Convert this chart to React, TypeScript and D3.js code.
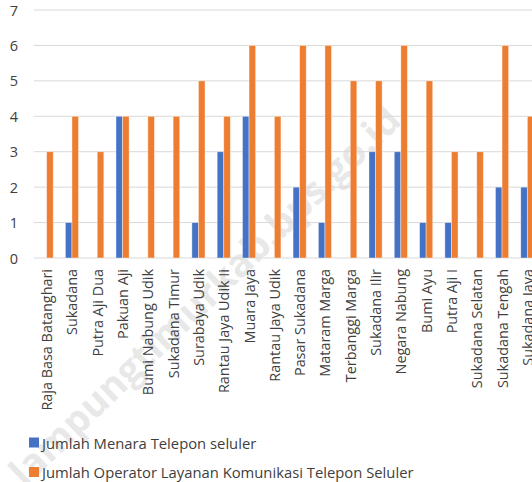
import * as d3 from "d3";

const categories = [
  "Raja Basa Batanghari",
  "Sukadana",
  "Putra Aji Dua",
  "Pakuan Aji",
  "Bumi Nabung Udik",
  "Sukadana Timur",
  "Surabaya Udik",
  "Rantau Jaya Udik Ii",
  "Muara Jaya",
  "Rantau Jaya Udik",
  "Pasar Sukadana",
  "Mataram Marga",
  "Terbanggi Marga",
  "Sukadana Ilir",
  "Negara Nabung",
  "Bumi Ayu",
  "Putra Aji I",
  "Sukadana Selatan",
  "Sukadana Tengah",
  "Sukadana Jaya",
];
const menara = [0, 1, 0, 4, 0, 0, 1, 3, 4, 0, 2, 1, 0, 3, 3, 1, 1, 0, 2, 2];
const operator = [3, 4, 3, 4, 4, 4, 5, 4, 6, 4, 6, 6, 5, 5, 6, 5, 3, 3, 6, 4];
const seriesNames = [
  "Jumlah Menara Telepon seluler",
  "Jumlah Operator Layanan Komunikasi Telepon Seluler",
];
const colors = ["#4472C4", "#ED7D31"];
const yTicks = [0, 1, 2, 3, 4, 5, 6, 7];

const W = 532;
const H = 482;
const left = 34;
const step = 25.3;
const font = "'Open Sans', sans-serif";

export default function App() {
  const x = d3
    .scaleBand<string>()
    .domain(categories)
    .range([left, left + step * categories.length])
    .paddingInner(0.48)
    .paddingOuter(0.24);
  const x1 = d3
    .scaleBand<number>()
    .domain([0, 1])
    .range([0, x.bandwidth()]);
  const y = d3.scaleLinear().domain([0, 7]).range([258, 10]);
  const series = [menara, operator];

  return (
    <div style={{ position: "fixed", left: 0, top: 0 }}>
      <svg width={W} height={H} style={{ display: "block", background: "#fff" }}>
        {/* watermark */}
        <text
          transform="translate(207,298) rotate(-44)"
          textAnchor="middle"
          dominantBaseline="middle"
          fontFamily={font}
          fontWeight="bold"
          fontSize={38}
          fill="#d9d9d9"
          opacity={0.6}
        >
          lampungtimurkab.bps.go.id
        </text>
        {yTicks.map((t) => (
          <g key={t}>
            <line x1={left} x2={W} y1={y(t)} y2={y(t)} stroke="#d9d9d9" strokeWidth={1} />
            <text
              x={18}
              y={y(t)}
              textAnchor="end"
              dominantBaseline="central"
              fontFamily={font}
              fontSize={14.5}
              fill="#404040"
            >
              {t}
            </text>
          </g>
        ))}
        {series.map((vals, s) => (
          <g key={s}>
            {vals.map((v, i) =>
              v > 0 ? (
                <rect
                  key={i}
                  x={(x(categories[i]) ?? 0) + (x1(s) ?? 0)}
                  y={y(v)}
                  width={x1.bandwidth()}
                  height={y(0) - y(v)}
                  fill={colors[s]}
                  stroke="#fff"
                  strokeOpacity={0.5}
                  strokeWidth={0.8}
                />
              ) : null
            )}
          </g>
        ))}
        {categories.map((c) => {
          const cx = (x(c) ?? 0) + x.bandwidth() / 2;
          return (
            <text
              key={c}
              transform={`translate(${cx},269) rotate(-90)`}
              textAnchor="end"
              dominantBaseline="central"
              fontFamily={font}
              fontSize={14.4}
              fill="#404040"
            >
              {c}
            </text>
          );
        })}
        {seriesNames.map((n, s) => (
          <g key={n} transform={`translate(29,${437.5 + s * 29.5})`}>
            <rect width={10} height={10} fill={colors[s]} />
            <text
              x={13}
              y={5}
              dominantBaseline="central"
              fontFamily={font}
              fontSize={14.8}
              fill="#404040"
            >
              {n}
            </text>
          </g>
        ))}
      </svg>
    </div>
  );
}
